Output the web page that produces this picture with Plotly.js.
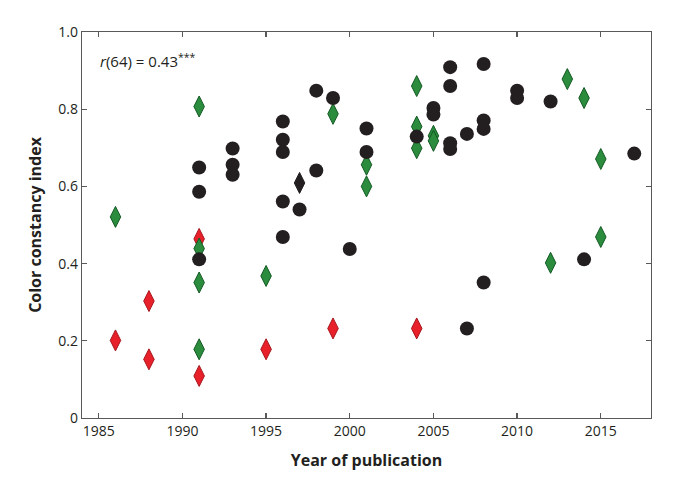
<!DOCTYPE html>
<html>
<head>
<meta charset="utf-8">
<script src="https://cdn.plot.ly/plotly-3.0.1.min.js"></script>
<style>
  body { margin: 0; background: #fff; }
  #chart { width: 676px; height: 490px; }
</style>
</head>
<body>
<div id="chart"></div>
<script>
// black circles
const blackYears = [1991, 1991, 1991, 1993, 1993, 1993, 1996, 1996, 1996, 1996, 1996, 1997,
    1998, 1998, 1999, 2000, 2001, 2001, 2004, 2005, 2005, 2006, 2006, 2006, 2006,
    2007, 2007, 2008, 2008, 2008, 2008, 2010, 2010, 2012, 2014, 2017];
const blackValues = [0.649, 0.586, 0.411, 0.698, 0.656, 0.630, 0.768, 0.721, 0.689, 0.561, 0.469, 0.540,
    0.848, 0.641, 0.829, 0.438, 0.750, 0.689, 0.729, 0.803, 0.786, 0.909, 0.860, 0.712, 0.697,
    0.736, 0.232, 0.917, 0.771, 0.749, 0.351, 0.848, 0.829, 0.820, 0.411, 0.685];

// black diamond
const blackDiamondYears = [1997];
const blackDiamondValues = [0.609];

// green diamonds
const greenYears = [1986, 1991, 1991, 1991, 1991, 1995, 1999, 2001, 2001, 2004, 2004, 2004,
    2005, 2005, 2012, 2013, 2014, 2015, 2015];
const greenValues = [0.521, 0.807, 0.439, 0.351, 0.178, 0.368, 0.788, 0.656, 0.600, 0.860, 0.755, 0.699,
    0.731, 0.718, 0.402, 0.878, 0.829, 0.671, 0.469];

// red diamonds
const redYears = [1986, 1988, 1988, 1991, 1991, 1995, 1999, 2004];
const redValues = [0.201, 0.303, 0.152, 0.464, 0.109, 0.178, 0.232, 0.232];

const xTicks = [1985, 1990, 1995, 2000, 2005, 2010, 2015];
const yTicks = [0, 0.2, 0.4, 0.6, 0.8, 1.0];
const yTickLabels = ["0", "0.2", "0.4", "0.6", "0.8", "1.0"];

const ink = "#231f20";
const axisColor = "#58595b";
const font = "Open Sans, Noto Sans, sans-serif";

const red = {
    x: redYears, y: redValues, mode: "markers", type: "scatter",
    marker: { symbol: "diamond-tall", size: 15, color: "#e8202a", line: { color: "#a8161e", width: 1 } }
};
const green = {
    x: greenYears, y: greenValues, mode: "markers", type: "scatter",
    marker: { symbol: "diamond-tall", size: 15, color: "#2a8c3c", line: { color: "#145a25", width: 1 } }
};
const blackDiamond = {
    x: blackDiamondYears, y: blackDiamondValues, mode: "markers", type: "scatter",
    marker: { symbol: "diamond-tall", size: 15, color: ink, line: { color: ink, width: 1 } }
};
const black = {
    x: blackYears, y: blackValues, mode: "markers", type: "scatter",
    marker: { symbol: "circle", size: 14, color: ink, line: { width: 0 } }
};

const axisCommon = {
    showgrid: false, zeroline: false,
    showline: true, linecolor: axisColor, linewidth: 1.3,
    mirror: "ticks", ticks: "inside", ticklen: 5, tickcolor: axisColor, tickwidth: 1.3,
    tickfont: { family: font, size: 14, color: ink }
};

const layout = {
    width: 676, height: 490,
    margin: { l: 82, r: 25, t: 32, b: 72 },
    showlegend: false,
    paper_bgcolor: "#fff", plot_bgcolor: "#fff",
    xaxis: Object.assign({}, axisCommon, {
        range: [1984, 2018], tickmode: "array", tickvals: xTicks,
        title: { text: "Year of publication", font: { family: font, size: 16, color: ink, weight: "bold" }, standoff: 15 }
    }),
    yaxis: Object.assign({}, axisCommon, {
        range: [0, 1], tickmode: "array", tickvals: yTicks, ticktext: yTickLabels,
        title: { text: "Color constancy index", font: { family: font, size: 16, color: ink, weight: "bold" }, standoff: 12 }
    }),
    annotations: [{
        xref: "paper", yref: "paper", x: 0.028, y: 0.925, xanchor: "left", yanchor: "middle",
        text: "<i>r</i>(64) = 0.43<sup>***</sup>", showarrow: false,
        font: { family: font, size: 15, color: ink }
    }]
};

Plotly.newPlot("chart", [red, green, blackDiamond, black], layout, { displayModeBar: false, staticPlot: true });
</script>
</body>
</html>
